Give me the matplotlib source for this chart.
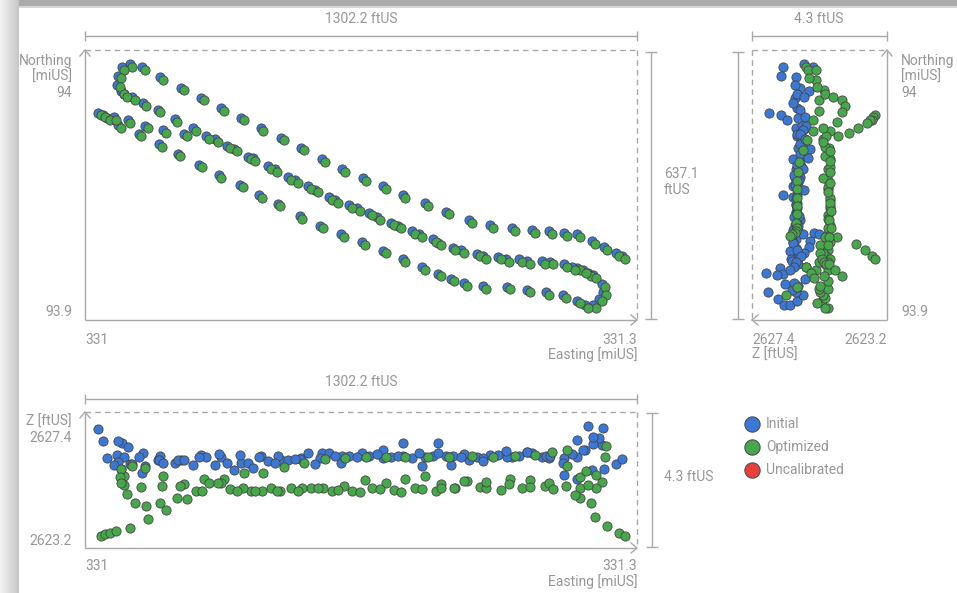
import matplotlib
matplotlib.use("Agg")
import matplotlib.pyplot as plt
import numpy as np
from matplotlib.patches import Rectangle

plt.rcParams['font.family'] = ['Roboto', 'DejaVu Sans']

# ------------------------------------------------------------------
# DATA  (Easting / Northing in ftUS from the south-west corner of the
# bounding box, Z in ftUS).
# ------------------------------------------------------------------
# upper flight line (west -> east)
L1_E = [106, 135, 177, 227, 274, 321, 368, 415, 463, 510, 559, 607, 656, 703, 750, 802, 852, 906, 956, 1008,
        1055, 1095, 1130, 1161, 1197, 1225, 1253, 1267]
L1_N = [604, 597, 573, 548, 524, 500, 477, 453, 430, 406, 380, 356, 335, 316, 295, 276, 255, 236, 224, 217,
        212, 210, 205, 203, 186, 172, 158, 151]
L1_Zi = [2625.80, 2625.52, 2626.06, 2625.93, 2626.09, 2626.03, 2625.84, 2626.06, 2625.93, 2625.99,
         2626.15, 2626.06, 2626.09, 2625.99, 2626.47, 2626.03, 2626.06, 2625.93, 2626.09, 2626.03,
         2626.15, 2625.99, 2625.46, 2625.33, 2625.61, 2625.65, 2625.80, 2625.96]
L1_Zo = [2625.74, 2625.68, 2625.42, 2625.17, 2625.33, 2625.33, 2625.52, 2625.52, 2625.71, 2625.84,
         2625.96, 2625.99, 2626.03, 2626.03, 2626.03, 2626.03, 2626.03, 2626.06, 2626.03, 2626.06,
         2626.09, 2626.18, 2626.25, 2624.73, 2624.13, 2623.84, 2623.62, 2623.53]
# western turn
HK_E = [87, 78, 76, 85, 92]
HK_N = [597, 576, 555, 540, 533]
HK_Zi = [2626.47, 2626.53, 2626.09, 2625.65, 2626.03]
HK_Zo = [2625.42, 2625.65, 2625.39, 2625.14, 2624.86]
# middle flight line (west -> east)
L2_E = [111, 137, 172, 212, 255, 286, 335, 385, 432, 479, 526, 576, 623, 670, 722, 772, 821, 868, 925, 975,
        1024, 1079, 1130, 1161, 1187]
L2_N = [526, 512, 496, 474, 453, 434, 411, 385, 363, 337, 316, 290, 271, 253, 229, 210, 191, 170, 156, 149,
        144, 139, 132, 123, 111]
L2_Zi = [2625.80, 2626.15, 2625.93, 2625.84, 2625.77, 2626.03, 2625.84, 2625.84, 2625.90, 2625.93,
         2626.15, 2626.15, 2626.06, 2626.06, 2626.03, 2625.99, 2626.06, 2626.06, 2626.03, 2626.09,
         2626.06, 2626.03, 2625.99, 2626.56, 2627.01]
L2_Zo = [2624.57, 2624.48, 2624.57, 2624.73, 2624.95, 2625.20, 2625.01, 2624.95, 2625.04, 2625.04,
         2625.04, 2624.95, 2624.95, 2625.04, 2624.98, 2625.04, 2624.95, 2625.04, 2625.08, 2624.98,
         2625.04, 2625.11, 2625.74, 2625.04, 2624.57]
# eastern turn
RH_E = [1220, 1222, 1213]
RH_N = [85, 66, 50]
RH_Zi = [2626.41, 2626.94, 2626.63]
RH_Zo = [2626.03, 2626.37, 2625.23]
# lower flight line (east -> west)
L3_E = [1199, 1180, 1161, 1128, 1088, 1043, 996, 939, 894, 864, 833, 795, 750, 703, 654, 604, 555, 507, 455, 411,
        366, 316, 269, 219, 175, 127, 78]
L3_N = [35, 35, 45, 59, 66, 71, 78, 80, 87, 97, 109, 125, 144, 163, 184, 203, 222, 245, 274, 295,
        319, 342, 366, 392, 415, 439, 460]
L3_Zi = [2626.44, 2626.25, 2626.03, 2625.84, 2626.06, 2626.18, 2626.03, 2625.99, 2626.12, 2625.77,
         2626.47, 2625.74, 2626.06, 2626.25, 2626.15, 2625.84, 2625.99, 2625.96, 2626.06, 2626.03,
         2626.09, 2626.12, 2626.03, 2625.93, 2625.93, 2626.03, 2625.87]
L3_Zo = [2625.04, 2625.14, 2625.39, 2625.11, 2625.20, 2625.30, 2625.33, 2625.04, 2625.27, 2625.04,
         2625.17, 2625.42, 2625.33, 2625.20, 2625.30, 2625.11, 2625.04, 2625.04, 2624.95, 2624.95,
         2625.04, 2625.20, 2624.95, 2625.11, 2625.11, 2625.08, 2625.20]
# second middle line (west -> east)
L4_E = [31, 42, 52, 68, 101, 142, 184, 234, 307, 352, 396, 448, 496, 543, 590, 642, 689, 739, 788, 833,
        887, 939, 994, 1043, 1097, 1149, 1175, 1199]
L4_N = [489, 484, 477, 479, 472, 458, 448, 439, 427, 404, 382, 356, 330, 307, 283, 264, 243, 222, 203, 182,
        165, 151, 144, 139, 137, 125, 118, 106]
L4_Zi = [2626.91, 2626.53, 2625.99, 2625.77, 2626.34, 2625.74, 2625.84, 2625.93, 2625.77, 2625.61,
         2625.68, 2625.84, 2625.96, 2625.80, 2626.06, 2626.03, 2626.12, 2626.06, 2626.15, 2626.15,
         2626.03, 2625.90, 2626.22, 2626.18, 2626.06, 2626.12, 2626.25, 2626.66]
L4_Zo = [2623.53, 2623.59, 2623.62, 2623.68, 2623.78, 2624.06, 2624.35, 2624.70, 2625.20, 2624.95,
         2624.95, 2624.95, 2624.95, 2625.04, 2624.98, 2624.92, 2625.01, 2624.92, 2625.01, 2625.04,
         2625.27, 2625.23, 2625.17, 2625.08, 2625.01, 2624.82, 2625.58, 2625.46]

# horizontal offset of the optimized positions relative to the initial ones (ftUS)
OPT_SHIFT_E = 6.0
OPT_SHIFT_N = -6.0

# extents of the bounding boxes
E_RANGE = (0.0, 1302.2)
N_RANGE = (0.0, 637.1)
Z_RANGE = (2623.15, 2627.45)

EASTING_TICKS = ["331", "331.3"]
NORTHING_TICKS = ["93.9", "94"]
Z_TICKS = ["2623.2", "2627.4"]
DIM_E = "1302.2 ftUS"
DIM_N = "637.1\nftUS"
DIM_Z = "4.3 ftUS"

LEGEND_LABELS = ["Initial", "Optimized", "Uncalibrated"]
LEGEND_COLORS = ["#3b78d6", "#46a84a", "#e8403a"]

# ------------------------------------------------------------------
E_init = np.array(L1_E + HK_E + L2_E + RH_E + L3_E + L4_E, float)
N_init = np.array(L1_N + HK_N + L2_N + RH_N + L3_N + L4_N, float)
Z_init = np.array(L1_Zi + HK_Zi + L2_Zi + RH_Zi + L3_Zi + L4_Zi, float)
Z_opt = np.array(L1_Zo + HK_Zo + L2_Zo + RH_Zo + L3_Zo + L4_Zo, float)
E_opt = E_init + OPT_SHIFT_E
N_opt = N_init + OPT_SHIFT_N

BLUE, GREEN, RED = LEGEND_COLORS
EDGE = "#454545"
LINE = "#a8a8a8"
TXT = "#979797"
FS = 10

W, H = 957, 593
fig = plt.figure(figsize=(W / 100, H / 100), dpi=100)
fig.patch.set_facecolor("white")

ov = fig.add_axes([0, 0, 1, 1], zorder=0)
ov.set_xlim(0, W)
ov.set_ylim(H, 0)
ov.axis("off")

# card shadow
for i in range(19):
    g = 0.95 - 0.17 * i / 18
    ov.add_patch(Rectangle((i, 0), 1, H, color=str(g), lw=0))
ov.add_patch(Rectangle((19, 0), W - 19, 6, color="0.67", lw=0))
ov.add_patch(Rectangle((19, 6), W - 19, 2, color="0.84", lw=0))


def seg(x0, y0, x1, y1, dashed=False):
    ov.plot([x0, x1], [y0, y1], color=LINE, lw=1.0,
            ls=(0, (4, 3)) if dashed else "-", solid_capstyle="butt")


def chevron(x, y, dx, dy, L=8, ang=40):
    a = np.deg2rad(ang)
    bx, by = -dx, -dy
    for s in (1, -1):
        rx = bx * np.cos(s * a) - by * np.sin(s * a)
        ry = bx * np.sin(s * a) + by * np.cos(s * a)
        ov.plot([x, x + L * rx], [y, y + L * ry], color=LINE, lw=1.0, solid_capstyle="round")


def dim_h(x0, x1, y):
    seg(x0, y, x1, y)
    seg(x0, y - 5, x0, y + 5)
    seg(x1, y - 5, x1, y + 5)


def dim_v(x, y0, y1):
    seg(x, y0, x, y1)
    seg(x - 6, y0, x + 6, y0)
    seg(x - 6, y1, x + 6, y1)


def txt(x, y, s, ha="left", va="center", size=FS):
    ov.text(x, y, s, ha=ha, va=va, color=TXT, fontsize=size, linespacing=1.25)


# ---------------- top-left: Easting / Northing --------------------
seg(85, 320, 85, 51); chevron(85, 50, 0, -1)
seg(85, 320, 636, 320); chevron(637, 320, 1, 0)
seg(85, 50, 637, 50, dashed=True)
seg(637, 50, 637, 320, dashed=True)
dim_h(85, 637, 36)
txt(361, 19, DIM_E, ha="center")
dim_v(651, 52, 319)
txt(664, 174, DIM_N.split("\n")[0])
txt(664, 190, DIM_N.split("\n")[1])
txt(72, 61, "Northing", ha="right")
txt(72, 77, "[miUS]", ha="right")
txt(72, 93, NORTHING_TICKS[1], ha="right")
txt(72, 312, NORTHING_TICKS[0], ha="right")
txt(85, 340, EASTING_TICKS[0])
txt(637, 340, EASTING_TICKS[1], ha="right")
txt(637, 355, "Easting [miUS]", ha="right")

# ---------------- top-right: Z / Northing --------------------------
seg(887, 320, 887, 51); chevron(887, 50, 0, -1)
seg(887, 320, 753, 320); chevron(752, 320, -1, 0)
seg(752, 50, 887, 50, dashed=True)
seg(752, 50, 752, 320, dashed=True)
dim_h(752, 887, 36)
txt(819, 19, DIM_Z, ha="center")
dim_v(738, 52, 319)
txt(901, 61, "Northing")
txt(901, 77, "[miUS]")
txt(901, 93, NORTHING_TICKS[1])
txt(901, 312, NORTHING_TICKS[0])
txt(752, 340, Z_TICKS[1])
txt(752, 355, "Z [ftUS]")
txt(887, 340, Z_TICKS[0], ha="right")

# ---------------- bottom: Easting / Z ------------------------------
seg(85, 548, 85, 413); chevron(85, 412, 0, -1)
seg(85, 548, 636, 548); chevron(637, 548, 1, 0)
seg(85, 412, 637, 412, dashed=True)
seg(637, 412, 637, 548, dashed=True)
dim_h(85, 637, 399)
txt(361, 382, DIM_E, ha="center")
dim_v(652, 413, 547)
txt(664, 477, DIM_Z)
txt(72, 422, "Z [ftUS]", ha="right")
txt(72, 438, Z_TICKS[1], ha="right")
txt(72, 541, Z_TICKS[0], ha="right")
txt(85, 566, EASTING_TICKS[0])
txt(637, 566, EASTING_TICKS[1], ha="right")
txt(637, 582, "Easting [miUS]", ha="right")

# ---------------- legend -------------------------------------------
for k, (lab, col) in enumerate(zip(LEGEND_LABELS, LEGEND_COLORS)):
    y = 424 + 23 * k
    ov.plot([752], [y], marker="o", ms=11, mfc=col, mec="#505050", mew=0.8, ls="none")
    txt(766, y, lab)


# ---------------- data panels --------------------------------------
def data_ax(x0, y0, x1, y1):
    ax = fig.add_axes([x0 / W, 1 - y1 / H, (x1 - x0) / W, (y1 - y0) / H], zorder=2)
    ax.axis("off")
    ax.patch.set_alpha(0)
    return ax


def pts(ax, x, y, col, z):
    ax.scatter(x, y, s=44, c=col, edgecolors=EDGE, linewidths=0.6, clip_on=False, zorder=z)


ax_top = data_ax(85, 50, 637, 320)
ax_top.set_xlim(*E_RANGE); ax_top.set_ylim(*N_RANGE)
pts(ax_top, E_init, N_init, BLUE, 3)
pts(ax_top, E_opt, N_opt, GREEN, 4)

ax_side = data_ax(752, 50, 887, 320)
ax_side.set_xlim(Z_RANGE[1], Z_RANGE[0]); ax_side.set_ylim(*N_RANGE)
pts(ax_side, Z_init, N_init, BLUE, 3)
pts(ax_side, Z_opt, N_opt, GREEN, 4)

ax_bot = data_ax(85, 412, 637, 548)
ax_bot.set_xlim(*E_RANGE); ax_bot.set_ylim(*Z_RANGE)
pts(ax_bot, E_init, Z_init, BLUE, 3)
pts(ax_bot, E_opt, Z_opt, GREEN, 4)

fig.savefig("out.png", dpi=100, facecolor="white")
